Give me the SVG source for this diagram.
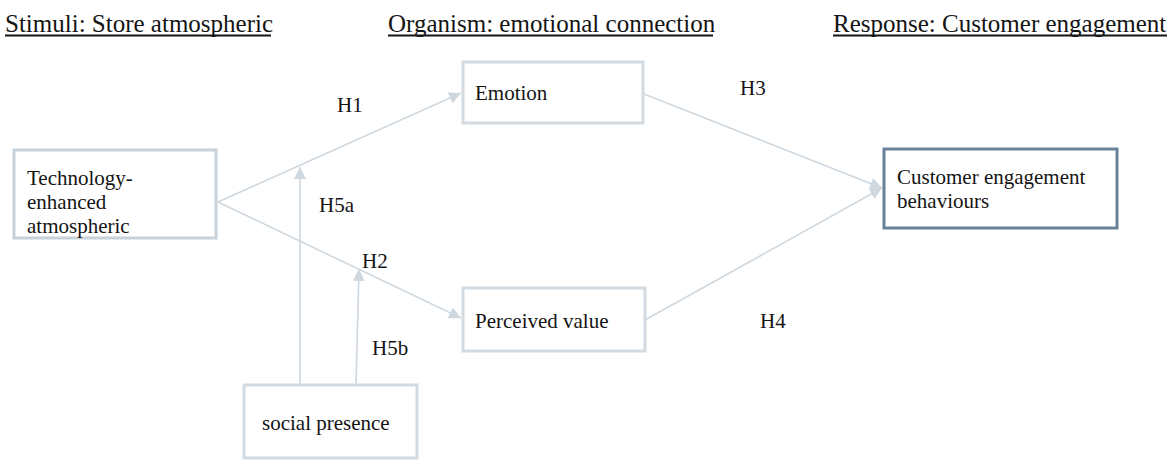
<svg xmlns="http://www.w3.org/2000/svg" width="1176" height="461" viewBox="0 0 1176 461">
<style>
text{font-family:"Liberation Serif","Times New Roman",serif;fill:#141414}
.title{font-size:25px}
.t{font-size:21px}
.ul{stroke:#141414;stroke-width:1.8}
.box{fill:#fff;stroke:#d3dbe2;stroke-width:3}
.box2{fill:#fff;stroke:#c7d2db;stroke-width:3}
.dark{fill:#fff;stroke:#6a8298;stroke-width:3}
.con{fill:none;stroke:#cfd8df;stroke-width:1.6;marker-end:url(#ah)}
</style>
<defs>
<marker id="ah" markerUnits="userSpaceOnUse" markerWidth="14" markerHeight="12" refX="12" refY="6" orient="auto">
<path d="M0,0 L12,6 L0,12 z" fill="#cfd8df"/>
</marker>
</defs>
<rect width="1176" height="461" fill="#fff"/>
<g id="titles">
<text class="title" x="5" y="32">Stimuli: Store atmospheric</text>
<line class="ul" x1="5" y1="35.5" x2="271" y2="35.5"/>
<text class="title" x="388" y="32">Organism: emotional connection</text>
<line class="ul" x1="388" y1="35.5" x2="713" y2="35.5"/>
<text class="title" x="833" y="32">Response: Customer engagement</text>
<line class="ul" x1="833" y1="35.5" x2="1167" y2="35.5"/>
</g>
<g id="connectors">
<path class="con" d="M218,202 L461,93"/>
<path class="con" d="M218,202 L461,318"/>
<path class="con" d="M644,94 L882,188"/>
<path class="con" d="M645,320 L882,188"/>
<path class="con" d="M300,385 L300,167"/>
<path class="con" d="M356,385 L359,269"/>
</g>
<g id="labels">
<text class="t" x="337" y="112">H1</text>
<text class="t" x="319" y="212">H5a</text>
<text class="t" x="362" y="268">H2</text>
<text class="t" x="372" y="355">H5b</text>
<text class="t" x="740" y="95">H3</text>
<text class="t" x="760" y="328">H4</text>
</g>
<g id="node-tech">
<rect class="box2" x="14" y="150" width="202" height="88"/>
<text class="t" x="27" y="185">Technology-</text>
<text class="t" x="27" y="209">enhanced</text>
<text class="t" x="27" y="233">atmospheric</text>
</g>
<g id="node-emotion">
<rect class="box" x="463" y="62" width="180" height="61"/>
<text class="t" x="475" y="100">Emotion</text>
</g>
<g id="node-value">
<rect class="box" x="463" y="288" width="182" height="63"/>
<text class="t" x="475" y="328">Perceived value</text>
</g>
<g id="node-ceb">
<rect class="dark" x="884" y="149" width="233" height="79"/>
<text class="t" x="897" y="184">Customer engagement</text>
<text class="t" x="897" y="208">behaviours</text>
</g>
<g id="node-social">
<rect class="box" x="244" y="385" width="173" height="73"/>
<text class="t" x="262" y="430">social presence</text>
</g>
</svg>
